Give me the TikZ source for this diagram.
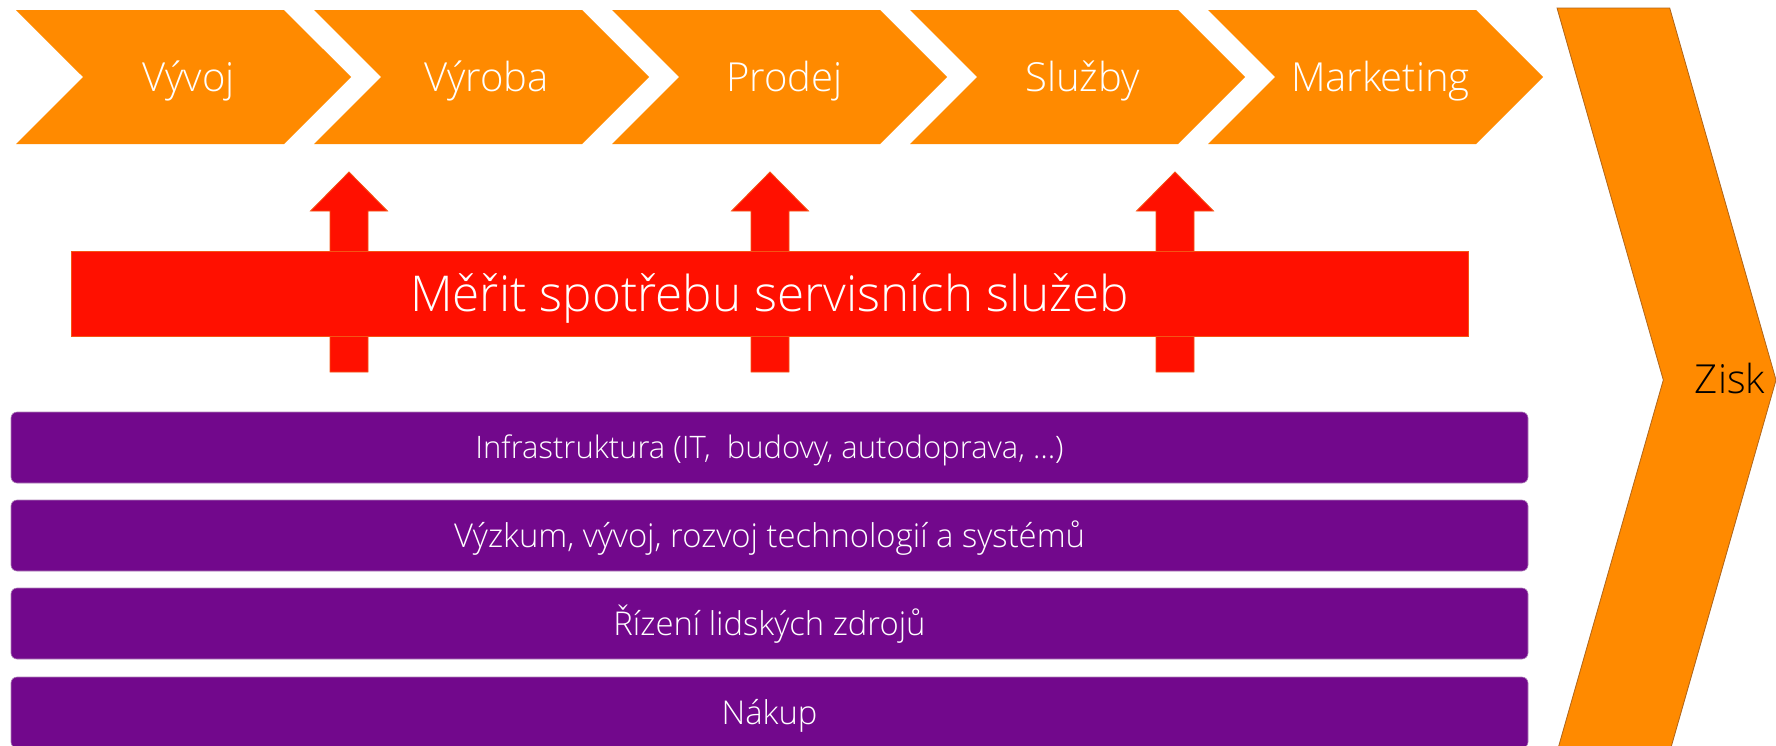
\documentclass[tikz,border=0pt]{standalone}
\usepackage{fontspec}
\setmainfont{Open Sans Light}
\usepackage{xcolor}
\usepackage{tikz}
\usetikzlibrary{shapes.symbols,backgrounds}
\definecolor{stagefill}{RGB}{255,138,0}
\definecolor{profitline}{RGB}{175,100,25}
\definecolor{measurefill}{RGB}{255,16,0}
\definecolor{measureline}{RGB}{245,85,20}
\definecolor{supportfill}{RGB}{114,8,140}
\definecolor{supportline}{RGB}{175,130,185}

\begin{document}
\begin{tikzpicture}[
    x=1pt,
    y=-1pt,
    stage/.style={
      signal,
      signal from=west,
      signal to=east,
      signal pointer angle=90,
      fill=stagefill,
      text=white,
      inner sep=0pt,
      text height=28.9pt,
      text depth=0pt,
      minimum width=335pt,
      minimum height=134pt,
      execute at begin node=\hspace*{10pt},
      font=\fontsize{40}{48}\selectfont
    },
    profit/.style={
      signal,
      signal from=west,
      signal to=east,
      signal pointer angle=148.1,
      fill=stagefill,
      draw=profitline,
      line width=0.8pt,
      inner sep=0pt,
      minimum width=219pt,
      minimum height=744pt
    },
    measure/.style={
      draw=measureline,
      fill=measurefill,
      line width=0.8pt,
      text=white,
      inner sep=0pt,
      text height=35.3pt,
      text depth=0pt,
      minimum width=1397pt,
      minimum height=85pt,
      font=\fontsize{49.4}{58}\selectfont
    },
    uparrow/.style={draw=measureline, fill=measurefill, line width=0.8pt},
    support/.style={
      draw=supportline,
      fill=supportfill,
      line width=0.6pt,
      rounded corners=6pt,
      text=white,
      inner sep=0pt,
      text height=23.4pt,
      text depth=0pt,
      minimum width=1517pt,
      minimum height=71pt,
      font=\fontsize{32.8}{40}\selectfont
    },
    label/.style={font=\fontsize{40}{48}\selectfont, inner sep=0pt,
      text height=28.6pt, text depth=0pt}
  ]
  \useasboundingbox (0,0) rectangle (1776,745);

  % primary activities
  \node[stage] (vyvoj) at (183.5,77) {V\'yvoj};
  \node[stage] (vyroba) at (481.5,77) {V\'yroba};
  \node[stage] (prodej) at (779.5,77) {Prodej};
  \node[stage] (sluzby) at (1077.5,77) {Slu\v{z}by};
  \node[stage] (marketing) at (1375.5,77) {Marketing};

  % margin
  \node[profit] (profit) at (1666.5,380) {};
  \node[label] (profittext) at (1730,379) {Zisk};

  % measurement bar with arrows behind it
  \foreach \ax in {349,770,1175}
    \filldraw[uparrow] (\ax-19,372) -- (\ax-19,211) -- (\ax-38.5,211)
      -- (\ax,172) -- (\ax+38.5,211) -- (\ax+19,211) -- (\ax+19,372) -- cycle;
  \node[measure] (measure) at (769.5,293.5)
    {M\v{e}\v{r}it spot\v{r}ebu servisn\'ich slu\v{z}eb};

  % support activities
  \node[support, font=\fontsize{31}{38}\selectfont, text height=22.1pt]
    (infra) at (769.5,447.5)
    {Infrastruktura (IT,\ \ budovy, autodoprava, …)};
  \node[support] (research) at (769.5,535.5)
    {V\'yzkum, v\'yvoj, rozvoj technologi\'i a syst\'em\r{u}};
  \node[support] (people) at (769.5,623.5)
    {\v{R}\'izen\'i lidsk\'ych zdroj\r{u}};
  \node[support] (purchase) at (769.5,712.5) {N\'akup};
\end{tikzpicture}
\end{document}
